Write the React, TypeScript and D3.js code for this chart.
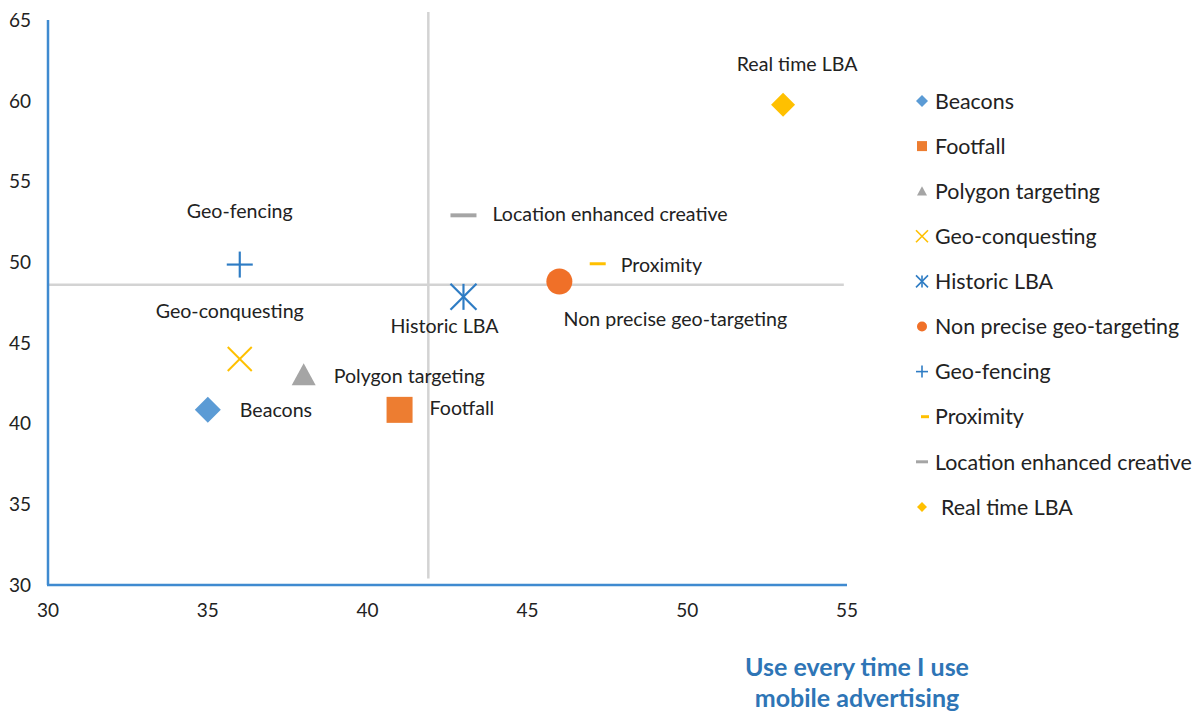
import React, { useEffect } from 'react';
import * as d3 from 'd3';

const series = [
  'Beacons',
  'Footfall',
  'Polygon targeting',
  'Geo-conquesting',
  'Historic LBA',
  'Non precise geo-targeting',
  'Geo-fencing',
  'Proximity',
  'Location enhanced creative',
  'Real time LBA',
];
const xValues = [35, 41, 38, 36, 43, 46, 36, 47.2, 43, 53];
const yValues = [40.85, 40.85, 43, 44, 47.85, 48.8, 49.85, 49.9, 52.9, 59.75];
const xTicks = [30, 35, 40, 45, 50, 55];
const yTicks = [30, 35, 40, 45, 50, 55, 60, 65];
const refXValue = 41.9;
const refXSpan = [30.4, 65.5];
const refYValue = 48.6;
const refYSpan = [30, 54.9];
const axisTitle = ['Use every time I use', 'mobile advertising'];

type Style = {
  shape: string;
  color: string;
  size: number;
  dx: number;
  dy: number;
  anchor: 'start' | 'middle' | 'end';
  lsize: number;
};

const styles: Style[] = [
  { shape: 'diamond', color: '#5B9BD5', size: 13, dx: 32, dy: 0, anchor: 'start', lsize: 6 },
  { shape: 'square', color: '#ED7D31', size: 13, dx: 30, dy: -2, anchor: 'start', lsize: 5 },
  { shape: 'triangle', color: '#A5A5A5', size: 12, dx: 30, dy: 1, anchor: 'start', lsize: 5 },
  { shape: 'x', color: '#FFC000', size: 12, dx: -10, dy: -48, anchor: 'middle', lsize: 6 },
  { shape: 'asterisk', color: '#2E7CC4', size: 13, dx: -19, dy: 29, anchor: 'middle', lsize: 6 },
  { shape: 'circle', color: '#F07028', size: 13, dx: 116, dy: 37, anchor: 'middle', lsize: 5 },
  { shape: 'plus', color: '#2E7CC4', size: 13, dx: 0, dy: -54, anchor: 'middle', lsize: 6 },
  { shape: 'dash', color: '#FFC000', size: 8, dx: 23, dy: 1, anchor: 'start', lsize: 4 },
  { shape: 'dash', color: '#A5A5A5', size: 13, dx: 29, dy: -1, anchor: 'start', lsize: 6 },
  { shape: 'diamond', color: '#FFC000', size: 12, dx: 14, dy: -41, anchor: 'middle', lsize: 5 },
];

const W = 1202;
const H = 711;
const FONT = 'Lato, "Open Sans", sans-serif';

const xScale = d3.scaleLinear().domain([30, 55]).range([48, 847]);
const yScale = d3.scaleLinear().domain([30, 65]).range([585, 20]);

function Marker({ shape, color, size, cx, cy }: { shape: string; color: string; size: number; cx: number; cy: number }) {
  const s = size;
  const tf = `translate(${cx},${cy})`;
  if (shape === 'diamond') {
    return <path transform={tf} d={`M0,${-s}L${s},0L0,${s}L${-s},0Z`} fill={color} />;
  }
  if (shape === 'square') {
    return <rect x={cx - s} y={cy - s} width={2 * s} height={2 * s} fill={color} />;
  }
  if (shape === 'triangle') {
    return <path transform={tf} d={`M0,${-s}L${s},${s * 0.85}L${-s},${s * 0.85}Z`} fill={color} />;
  }
  if (shape === 'circle') {
    return <circle cx={cx} cy={cy} r={s} fill={color} />;
  }
  const sw = Math.max(1.6, s / 6);
  if (shape === 'x') {
    return (
      <g transform={tf} stroke={color} strokeWidth={sw}>
        <line x1={-s} y1={-s} x2={s} y2={s} />
        <line x1={-s} y1={s} x2={s} y2={-s} />
      </g>
    );
  }
  if (shape === 'plus') {
    return (
      <g transform={tf} stroke={color} strokeWidth={sw}>
        <line x1={-s} y1={0} x2={s} y2={0} />
        <line x1={0} y1={-s} x2={0} y2={s} />
      </g>
    );
  }
  if (shape === 'asterisk') {
    return (
      <g transform={tf} stroke={color} strokeWidth={sw}>
        <line x1={-s} y1={-s} x2={s} y2={s} />
        <line x1={-s} y1={s} x2={s} y2={-s} />
        <line x1={0} y1={-s} x2={0} y2={s} />
      </g>
    );
  }
  if (shape === 'dash') {
    return <line x1={cx - s} y1={cy} x2={cx + s} y2={cy} stroke={color} strokeWidth={Math.max(3, s / 3.3)} />;
  }
  return null;
}

export default function App() {
  useEffect(() => {
    document.body.style.margin = '0';
  }, []);

  const axisColor = '#3F8AD0';
  const legendX = 922;
  const legendY0 = 101;
  const legendStep = 45.1;

  return (
    <svg width={W} height={H} style={{ display: 'block', background: '#fff' }} fontFamily={FONT}>
      {/* reference lines */}
      <line
        x1={xScale(refXValue)}
        x2={xScale(refXValue)}
        y1={yScale(refXSpan[0])}
        y2={yScale(refXSpan[1])}
        stroke="#D3D3D3"
        strokeWidth={2.5}
      />
      <line
        x1={xScale(refYSpan[0])}
        x2={xScale(refYSpan[1])}
        y1={yScale(refYValue)}
        y2={yScale(refYValue)}
        stroke="#D3D3D3"
        strokeWidth={2.5}
      />
      {/* axes */}
      <line x1={xScale(30)} x2={xScale(30)} y1={yScale(65)} y2={yScale(30)} stroke={axisColor} strokeWidth={2.5} />
      <line x1={xScale(30) - 1} x2={xScale(55)} y1={yScale(30)} y2={yScale(30)} stroke={axisColor} strokeWidth={2.5} />
      {yTicks.map((t) => (
        <text key={'y' + t} x={31} y={yScale(t)} dy="0.36em" textAnchor="end" fontSize={19} fill="#222">
          {t}
        </text>
      ))}
      {xTicks.map((t) => (
        <text key={'x' + t} x={xScale(t)} y={610} dy="0.36em" textAnchor="middle" fontSize={19} fill="#222">
          {t}
        </text>
      ))}
      {/* points */}
      {series.map((name, i) => {
        const st = styles[i];
        const cx = xScale(xValues[i]);
        const cy = yScale(yValues[i]);
        return (
          <g key={name}>
            <Marker shape={st.shape} color={st.color} size={st.size} cx={cx} cy={cy} />
            <text x={cx + st.dx} y={cy + st.dy} dy="0.36em" textAnchor={st.anchor} fontSize={19.6} fill="#222">
              {name}
            </text>
          </g>
        );
      })}
      {/* legend */}
      {series.map((name, i) => {
        const st = styles[i];
        const cy = legendY0 + i * legendStep;
        const mx = st.shape === 'dash' && st.size < 10 ? legendX + 3 : legendX;
        return (
          <g key={'leg' + name}>
            <Marker shape={st.shape} color={st.color} size={st.lsize} cx={mx} cy={cy} />
            <text x={i === 9 ? 941 : 935} y={cy} dy="0.36em" fontSize={21.4} fill="#222">
              {name}
            </text>
          </g>
        );
      })}
      {/* axis title */}
      {axisTitle.map((line, i) => (
        <text
          key={line}
          x={857}
          y={667 + i * 31}
          dy="0.36em"
          textAnchor="middle"
          fontSize={25}
          fontWeight="bold"
          fill="#2E75B6"
        >
          {line}
        </text>
      ))}
    </svg>
  );
}
